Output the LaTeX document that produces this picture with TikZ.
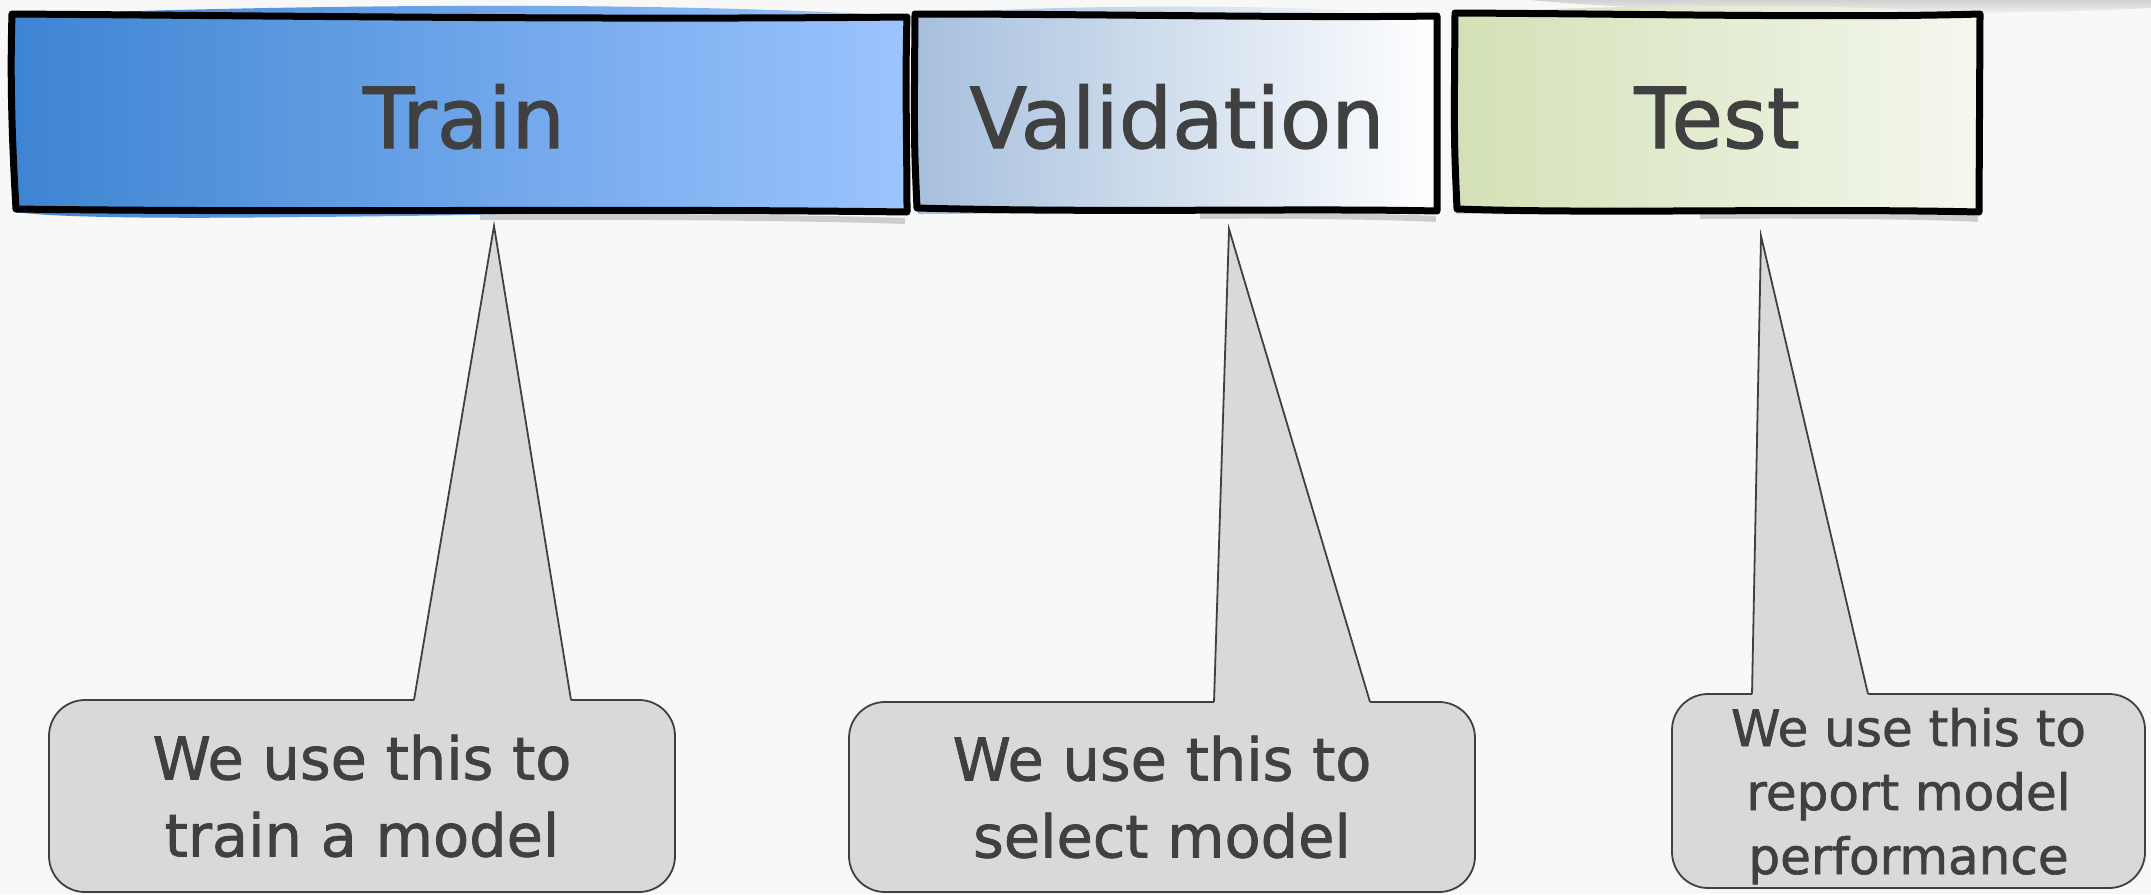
\documentclass[tikz,border=0pt]{standalone}
\usepackage{fontspec}
\setmainfont{DejaVu Sans}
\newfontfamily\hand[FakeBold=1.3]{DejaVu Sans}
\definecolor{bg}{HTML}{F8F8F8}
\definecolor{txt}{HTML}{404040}
\definecolor{cfill}{HTML}{D9D9D9}
\definecolor{trainL}{HTML}{3D84D2}
\definecolor{trainR}{HTML}{9CC4FF}
\definecolor{valL}{HTML}{A6BFDD}
\definecolor{valR}{HTML}{FFFFFF}
\definecolor{testL}{HTML}{D3E1B6}
\definecolor{testR}{HTML}{F4F7EE}
\tikzset{
  hdrtext/.style={text=txt, font=\hand\fontsize{84}{96}\selectfont, inner sep=0pt, anchor=base},
  hdrborder/.style={draw=black, line width=7pt, line join=round, line cap=round},
  hdrshadow/.style={draw=black!40, line width=6pt, opacity=0.45},
  callbox/.style={draw=txt, fill=cfill, line width=1.8pt, rounded corners=36pt, align=center,
    text=txt, font=\hand\fontsize{59}{77}\selectfont, inner sep=0pt},
  tailfill/.style={fill=cfill},
  tailedge/.style={draw=txt, line width=1.8pt, line join=miter},
}
\begin{document}
\begin{tikzpicture}[x=1pt,y=-1pt]
\fill[bg] (0,0) rectangle (2151,894);
\useasboundingbox (0,0) rectangle (2151,894);

% soft grey smear top right
\shade[top color=black!18, bottom color=bg] (1530,0) .. controls (1700,16) and (2000,16) .. (2151,8) -- (2151,0) -- cycle;

% ---------- Train header
\shade[left color=trainL, right color=trainR] (14,15) .. controls (200,8) and (600,-2) .. (904,16) -- (907,214) .. controls (700,208) and (500,216) .. (300,217) .. controls (150,219) and (50,217) .. (15,212) -- cycle;
\draw[hdrshadow] (480,217) .. controls (700,216) and (850,219) .. (905,221);
\draw[hdrborder] (12,14) .. controls (300,16) and (600,20) .. (907,17) .. controls (905,80) and (907,150) .. (907,212) .. controls (600,208) and (300,213) .. (16,209) .. controls (12,140) and (10,80) .. (12,14) -- cycle;
\node[hdrtext] (train) at (464,148) {Train};

% ---------- Validation header
\shade[left color=valL, right color=valR] (916,14) .. controls (1050,6) and (1250,2) .. (1436,15) -- (1437,212) .. controls (1300,206) and (1100,214) .. (918,214) -- cycle;
\draw[hdrshadow] (1200,216) .. controls (1300,215) and (1400,217) .. (1436,219);
\draw[hdrborder] (915,14) .. controls (1100,14) and (1300,18) .. (1437,16) -- (1437,211) .. controls (1300,208) and (1100,213) .. (917,208) .. controls (914,140) .. (915,14) -- cycle;
\node[hdrtext] (val) at (1177,148) {Validation};

% ---------- Test header
\shade[left color=testL, right color=testR] (1456,14) .. controls (1600,4) and (1850,2) .. (1978,15) -- (1979,212) .. controls (1800,206) and (1600,216) .. (1456,214) -- cycle;
\draw[hdrshadow] (1700,216) .. controls (1850,215) and (1950,217) .. (1978,219);
\draw[hdrborder] (1455,13) .. controls (1650,14) and (1850,18) .. (1980,14) -- (1979,212) .. controls (1800,208) and (1600,214) .. (1457,209) .. controls (1454,140) .. (1455,13) -- cycle;
\node[hdrtext] (test) at (1717,148) {Test};

% ---------- Callouts
\node[callbox, minimum width=626pt, minimum height=192pt] (c1) at (362,796) {We use this to\\train a model};
\node[callbox, minimum width=626pt, minimum height=190pt] (c2) at (1162,797) {We use this to\\select model};
\node[callbox, minimum width=473pt, minimum height=194pt, font=\hand\fontsize{50}{64}\selectfont, text depth=0pt] (c3) at (1908.5,791) {We use this to\\report model\\performance};

% tails
\coordinate (a1) at (494,226); \coordinate (l1) at (414,700); \coordinate (r1) at (571,700);
\coordinate (a2) at (1229,229); \coordinate (l2) at (1214,702); \coordinate (r2) at (1370,702);
\coordinate (a3) at (1761,236); \coordinate (l3) at (1752,694); \coordinate (r3) at (1868,694);
\fill[tailfill] (a1) -- (l1) -- ([yshift=-4pt]l1) -- ([yshift=-4pt]r1) -- (r1) -- cycle;
\draw[tailedge] (l1) -- (a1) -- (r1);
\fill[tailfill] (a2) -- (l2) -- ([yshift=-4pt]l2) -- ([yshift=-4pt]r2) -- (r2) -- cycle;
\draw[tailedge] (l2) -- (a2) -- (r2);
\fill[tailfill] (a3) -- (l3) -- ([yshift=-4pt]l3) -- ([yshift=-4pt]r3) -- (r3) -- cycle;
\draw[tailedge] (l3) -- (a3) -- (r3);
\end{tikzpicture}
\end{document}
